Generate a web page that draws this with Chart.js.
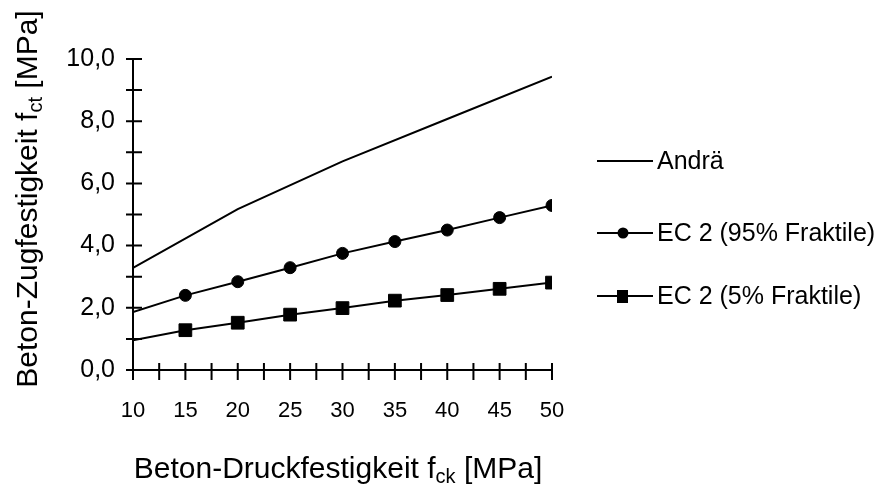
<!DOCTYPE html>
<html>
<head>
<meta charset="utf-8">
<script src="https://cdn.jsdelivr.net/npm/chart.js@4/dist/chart.umd.min.js"></script>
<style>
  html, body { margin: 0; padding: 0; background: #fff; }
</style>
</head>
<body>
<canvas id="lineChart" width="888" height="486"></canvas>
<script>
// Betondruckfestigkeit f_ck [MPa]
var fck = [10, 15, 20, 25, 30, 35, 40, 45, 50]
var andraX = [10, 20, 30, 40, 50]
// Zugfestigkeit f_ct [MPa]
var andra = [3.28, 5.17, 6.71, 8.07, 9.43]
var ec2_95 = [1.86, 2.40, 2.84, 3.29, 3.75, 4.13, 4.50, 4.90, 5.29]
var ec2_5 = [0.96, 1.28, 1.52, 1.78, 1.99, 2.23, 2.41, 2.61, 2.81]
var seriesNames = ['Andrä', 'EC 2 (95% Fraktile)', 'EC 2 (5% Fraktile)']
var xTickLabels = [10, 15, 20, 25, 30, 35, 40, 45, 50]
var yTickLabels = ['0,0', '2,0', '4,0', '6,0', '8,0', '10,0']

var FONT = '"Liberation Sans", Arial, sans-serif'

function pts(xs, ys) {
    return xs.map(function (x, i) { return { x: x, y: ys[i] } })
}

// Achsen mit Kreuz-Teilstrichen, Titel mit Index, Legende rechts
var decor = {
    id: 'decor',
    afterDraw: function (chart) {
        var ctx = chart.ctx
        var xs = chart.scales.x, ys = chart.scales.y
        var a = chart.chartArea
        ctx.save()
        ctx.strokeStyle = '#000'
        ctx.fillStyle = '#000'
        ctx.lineWidth = 2
        ctx.beginPath()
        ctx.moveTo(a.left, a.top); ctx.lineTo(a.left, a.bottom); ctx.lineTo(a.right, a.bottom)
        xs.ticks.forEach(function (t) {
            var px = xs.getPixelForValue(t.value)
            ctx.moveTo(px, a.bottom - 7); ctx.lineTo(px, a.bottom + 10)
        })
        ys.ticks.forEach(function (t) {
            var py = ys.getPixelForValue(t.value)
            ctx.moveTo(a.left - 7, py); ctx.lineTo(a.left + 9, py)
        })
        ctx.stroke()

        // Achsentitel
        function sub(x, y, parts) {
            var w = 0
            parts.forEach(function (p) {
                ctx.font = (p.s ? '20px ' : '30px ') + FONT
                p.w = ctx.measureText(p.t).width
                w += p.w
            })
            var cx = x - w / 2
            ctx.textAlign = 'left'
            ctx.textBaseline = 'alphabetic'
            parts.forEach(function (p) {
                ctx.font = (p.s ? '20px ' : '30px ') + FONT
                ctx.fillText(p.t, cx, y + (p.s ? 5 : 0))
                cx += p.w
            })
        }
        sub(338, 478, [{ t: 'Beton-Druckfestigkeit f' }, { t: 'ck', s: true }, { t: ' [MPa]' }])
        ctx.save()
        ctx.translate(37, 199)
        ctx.rotate(-Math.PI / 2)
        sub(0, 0, [{ t: 'Beton-Zugfestigkeit f' }, { t: 'ct', s: true }, { t: ' [MPa]' }])
        ctx.restore()

        // Legende
        var rows = [161, 233, 296]
        chart.data.datasets.forEach(function (ds, i) {
            var y = rows[i]
            ctx.beginPath()
            ctx.lineWidth = 2
            ctx.moveTo(597, y); ctx.lineTo(653, y)
            ctx.stroke()
            if (ds.pointStyle === 'circle') {
                ctx.beginPath(); ctx.arc(623, y, 5.5, 0, Math.PI * 2); ctx.fill()
            } else if (ds.pointStyle === 'rect') {
                ctx.fillRect(617, y - 6, 11, 13)
            }
            ctx.font = '25px ' + FONT
            ctx.textAlign = 'left'
            ctx.textBaseline = 'middle'
            ctx.fillText(ds.label, 657, y + 1)
        })
        ctx.restore()
    }
}

var ctx = document.getElementById('lineChart').getContext('2d')
new Chart(ctx, {
    type: 'line',
    data: {
        datasets: [{
            label: seriesNames[0],
            data: pts(andraX, andra),
            borderColor: '#000',
            borderWidth: 2,
            pointRadius: 0,
            pointStyle: false
        }, {
            label: seriesNames[1],
            data: pts(fck, ec2_95),
            borderColor: '#000',
            backgroundColor: '#000',
            borderWidth: 2,
            pointStyle: 'circle',
            pointBorderWidth: 1,
            pointRadius: fck.map(function (v, i) { return i === 0 ? 0 : 6 })
        }, {
            label: seriesNames[2],
            data: pts(fck, ec2_5),
            borderColor: '#000',
            backgroundColor: '#000',
            borderWidth: 2,
            pointStyle: 'rect',
            pointBorderWidth: 1,
            pointRadius: fck.map(function (v, i) { return i === 0 ? 0 : 9 })
        }]
    },
    options: {
        responsive: false,
        animation: false,
        devicePixelRatio: 1,
        layout: { padding: { left: 0, top: 59, right: 336, bottom: 0 } },
        plugins: { legend: { display: false }, tooltip: { enabled: false } },
        scales: {
            x: {
                type: 'linear',
                min: 10, max: 50,
                afterFit: function (s) { s.height = 116 },
                border: { display: false },
                grid: { display: false },
                ticks: {
                    stepSize: 2.5,
                    autoSkip: false,
                    maxRotation: 0,
                    padding: 20,
                    color: '#000',
                    font: { family: FONT, size: 22 },
                    callback: function (v) { return xTickLabels.indexOf(v) >= 0 ? String(v) : '' }
                }
            },
            y: {
                min: 0, max: 10,
                afterFit: function (s) { s.width = 133 },
                border: { display: false },
                grid: { display: false },
                ticks: {
                    stepSize: 1,
                    autoSkip: false,
                    padding: 10,
                    color: '#000',
                    font: { family: FONT, size: 25 },
                    callback: function (v) { return v % 2 === 0 ? yTickLabels[v / 2] : '' }
                }
            }
        }
    },
    plugins: [decor]
})
</script>
</body>
</html>
